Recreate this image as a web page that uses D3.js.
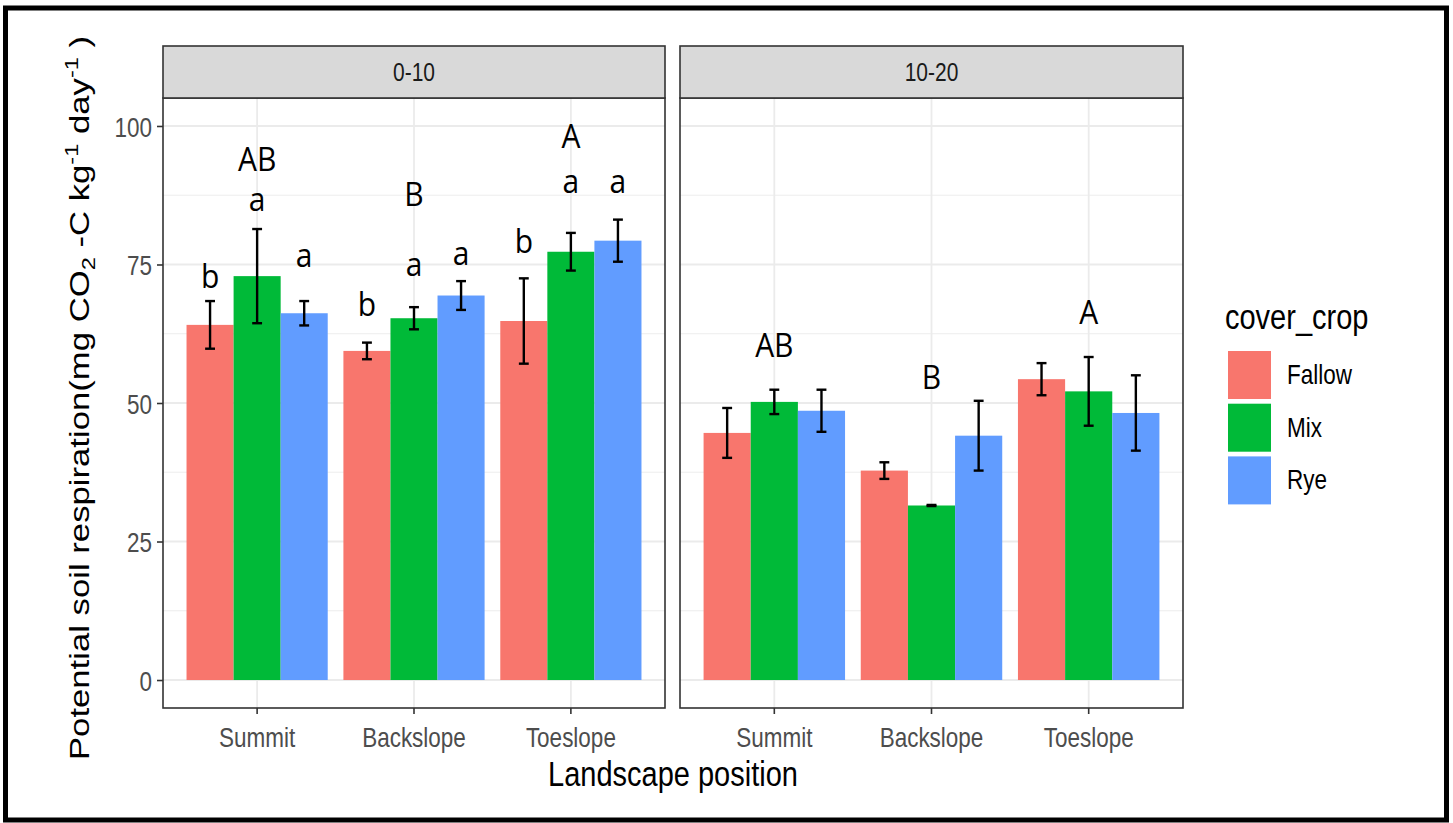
<!DOCTYPE html>
<html><head><meta charset="utf-8">
<script src="https://cdn.jsdelivr.net/npm/d3@7"></script>
<style>body{margin:0;background:#fff}svg{display:block}</style>
</head><body><svg id="c" width="1453" height="823"></svg>
<script>
// ---------- data ----------
const depths = ["0-10", "10-20"];
const positions = ["Summit", "Backslope", "Toeslope"];
const covers = ["Fallow", "Mix", "Rye"];
const coverColors = ["#F8766D", "#00BA38", "#619CFF"];
const yTicks = [0, 25, 50, 75, 100];
const yMinorTicks = [12.5, 37.5, 62.5, 87.5];

// mean respiration, per landscape position
const fallow010 = [64.1, 59.4, 64.8];
const mix010 = [72.9, 65.3, 77.3];
const rye010 = [66.2, 69.4, 79.3];
const fallow1020 = [44.6, 37.8, 54.3];
const mix1020 = [50.2, 31.5, 52.1];
const rye1020 = [48.6, 44.1, 48.2];
// error (± half-length of error bar)
const seFallow010 = [4.3, 1.5, 7.7];
const seMix010 = [8.5, 2.0, 3.4];
const seRye010 = [2.2, 2.6, 3.8];
const seFallow1020 = [4.5, 1.5, 2.9];
const seMix1020 = [2.2, 0.1, 6.2];
const seRye1020 = [3.8, 6.3, 6.8];

// lower-case letters (0-10 only) and their y positions
const letterFallow010 = ["b", "b", "b"];
const letterMix010 = ["a", "a", "a"];
const letterRye010 = ["a", "a", "a"];
const letterYFallow010 = [70.8, 65.7, 77.1];
const letterYMix010 = [84.7, 72.9, 87.9];
const letterYRye010 = [74.5, 74.9, 87.9];
// upper-case group letters
const groupLetter010 = ["AB", "B", "A"];
const groupY010 = [91.9, 85.6, 96.0];
const groupLetter1020 = ["AB", "B", "A"];
const groupY1020 = [58.3, 52.5, 64.3];

const means = [[fallow010, mix010, rye010], [fallow1020, mix1020, rye1020]];
const errs = [[seFallow010, seMix010, seRye010], [seFallow1020, seMix1020, seRye1020]];
const lowLetters = [[letterFallow010, letterMix010, letterRye010], null];
const lowLetterY = [[letterYFallow010, letterYMix010, letterYRye010], null];
const groupLetters = [groupLetter010, groupLetter1020];
const groupYs = [groupY010, groupY1020];

// ---------- layout ----------
const svg = d3.select("#c");
const W = 1453, H = 823;
const S = 1.24; // vertical stretch of the reference's axis text
svg.append("rect").attr("width", W).attr("height", H).attr("fill", "#fff");

const plotTop = 98, plotBottom = 708, stripTop = 46;
const panelX = [[163, 665], [680, 1183]];
const y = d3.scaleLinear().domain([-5.05, 105.05]).range([plotBottom, plotTop]);
const color = d3.scaleOrdinal().domain(covers).range(coverColors);
const sans = "'Liberation Sans', Arial, sans-serif";
const letterFont = "'Open Sans', 'Noto Sans', sans-serif";

function sText(parent, x, yy, txt, size, anchor, fill) {
  return parent.append("text")
    .attr("transform", `translate(${x},${yy}) scale(1,${S})`)
    .attr("text-anchor", anchor).attr("font-family", sans).attr("font-size", size)
    .attr("fill", fill).text(txt);
}

depths.forEach((depth, p) => {
  const [x0, x1] = panelX[p];
  const x = d3.scaleBand().domain(positions).range([x0, x1]).paddingInner(0).paddingOuter(0.1);
  const step = x.step();
  const xs = d3.scaleBand().domain(covers).range([-0.45 * step, 0.45 * step]).padding(0);
  const bw = xs.bandwidth();
  const g = svg.append("g");

  // grid
  g.selectAll(".ymin").data(yMinorTicks).join("line")
    .attr("x1", x0).attr("x2", x1).attr("y1", d => y(d)).attr("y2", d => y(d))
    .attr("stroke", "#ebebeb").attr("stroke-width", 0.9);
  g.selectAll(".ymaj").data(yTicks).join("line")
    .attr("x1", x0).attr("x2", x1).attr("y1", d => y(d)).attr("y2", d => y(d))
    .attr("stroke", "#ebebeb").attr("stroke-width", 1.8);
  g.selectAll(".xmaj").data(positions).join("line")
    .attr("x1", d => x(d) + step / 2).attr("x2", d => x(d) + step / 2)
    .attr("y1", plotTop).attr("y2", plotBottom)
    .attr("stroke", "#ebebeb").attr("stroke-width", 1.8);

  // bars
  const rows = [];
  positions.forEach((pos, i) => covers.forEach((cv, j) => {
    rows.push({pos, cv, j, v: means[p][j][i], e: errs[p][j][i],
      lt: lowLetters[p] ? lowLetters[p][j][i] : null,
      ly: lowLetterY[p] ? lowLetterY[p][j][i] : null});
  }));
  const cx = d => x(d.pos) + step / 2 + xs(d.cv) + bw / 2;
  g.selectAll(".bar").data(rows).join("rect")
    .attr("x", d => x(d.pos) + step / 2 + xs(d.cv)).attr("width", bw)
    .attr("y", d => y(d.v)).attr("height", d => y(0) - y(d.v))
    .attr("fill", d => color(d.cv));

  // error bars
  const cap = bw * 0.105;
  const eb = g.selectAll(".eb").data(rows).join("g").attr("stroke", "#000").attr("stroke-width", 2.4);
  eb.append("line").attr("x1", cx).attr("x2", cx).attr("y1", d => y(d.v + d.e)).attr("y2", d => y(d.v - d.e));
  eb.append("line").attr("x1", d => cx(d) - cap).attr("x2", d => cx(d) + cap).attr("y1", d => y(d.v + d.e)).attr("y2", d => y(d.v + d.e));
  eb.append("line").attr("x1", d => cx(d) - cap).attr("x2", d => cx(d) + cap).attr("y1", d => y(d.v - d.e)).attr("y2", d => y(d.v - d.e));

  // letters
  g.selectAll(".lt").data(rows.filter(d => d.lt)).join("text")
    .attr("transform", d => `translate(${cx(d)},${y(d.ly)}) scale(1,1.08)`).attr("text-anchor", "middle")
    .attr("font-family", letterFont).attr("font-size", 30).attr("fill", "#000").text(d => d.lt);
  g.selectAll(".gl").data(positions).join("text")
    .attr("transform", (d, i) => `translate(${x(d) + step / 2},${y(groupYs[p][i])}) scale(1,1.08)`).attr("text-anchor", "middle")
    .attr("font-family", letterFont).attr("font-size", 30).attr("fill", "#000").text((d, i) => groupLetters[p][i]);

  // panel border
  g.append("rect").attr("x", x0).attr("y", plotTop).attr("width", x1 - x0).attr("height", plotBottom - plotTop)
    .attr("fill", "none").attr("stroke", "#333").attr("stroke-width", 1.6);
  // strip
  g.append("rect").attr("x", x0).attr("y", stripTop).attr("width", x1 - x0).attr("height", plotTop - stripTop)
    .attr("fill", "#d9d9d9").attr("stroke", "#333").attr("stroke-width", 1.6);
  sText(g, (x0 + x1) / 2, 81, depth, 21, "middle", "#1a1a1a");

  // x axis
  const xa = d3.axisBottom(x).tickSize(6).tickPadding(10).tickSizeOuter(0);
  const xg = svg.append("g").attr("transform", `translate(0,${plotBottom})`).call(xa);
  xg.select(".domain").remove();
  xg.selectAll(".tick line").attr("stroke", "#333").attr("stroke-width", 1.6);
  xg.selectAll(".tick text").attr("y", null).attr("dy", null)
    .attr("transform", `translate(0,39) scale(1,${S})`)
    .attr("font-family", sans).attr("font-size", 22.5).attr("fill", "#4d4d4d");

  if (p === 0) {
    const ya = d3.axisLeft(y).tickValues(yTicks).tickSize(6).tickPadding(5).tickSizeOuter(0);
    const yg = svg.append("g").attr("transform", `translate(${x0},0)`).call(ya);
    yg.select(".domain").remove();
    yg.selectAll(".tick line").attr("stroke", "#333").attr("stroke-width", 1.6);
    yg.selectAll(".tick text").attr("x", null).attr("dy", "0.36em")
      .attr("transform", `translate(-11,0) scale(1,${S})`)
      .attr("font-family", sans).attr("font-size", 22.5).attr("fill", "#4d4d4d");
  }
});

// axis titles
sText(svg, 673, 786, "Landscape position", 29, "middle", "#000");

const yt = svg.append("text").attr("transform", `translate(89,398) rotate(-90) scale(${S},1)`)
  .attr("text-anchor", "middle").attr("font-family", sans).attr("font-size", 28).attr("fill", "#000");
yt.append("tspan").text("Potential soil respiration(mg CO");
yt.append("tspan").attr("dy", 6).attr("font-size", 19).text("2");
yt.append("tspan").attr("dy", -6).text(" -C kg");
yt.append("tspan").attr("dy", -11).attr("font-size", 19).text("-1");
yt.append("tspan").attr("dy", 11).text(" day");
yt.append("tspan").attr("dy", -11).attr("font-size", 19).text("-1");
yt.append("tspan").attr("dy", 11).text("  )");

// legend
const lg = svg.append("g");
sText(lg, 1225, 329, "cover_crop", 29, "start", "#000");
const keys = lg.selectAll(".k").data(covers).join("g").attr("transform", (d, i) => `translate(1228,${351 + i * 52.7})`);
keys.append("rect").attr("width", 43).attr("height", 48).attr("fill", d => color(d));
keys.each(function(d) { sText(d3.select(this), 59, 33, d, 22.5, "start", "#000"); });

// outer frame
svg.append("rect").attr("x", 5.5).attr("y", 8).attr("width", 1441).attr("height", 812)
  .attr("fill", "none").attr("stroke", "#000").attr("stroke-width", 5);
</script></body></html>
